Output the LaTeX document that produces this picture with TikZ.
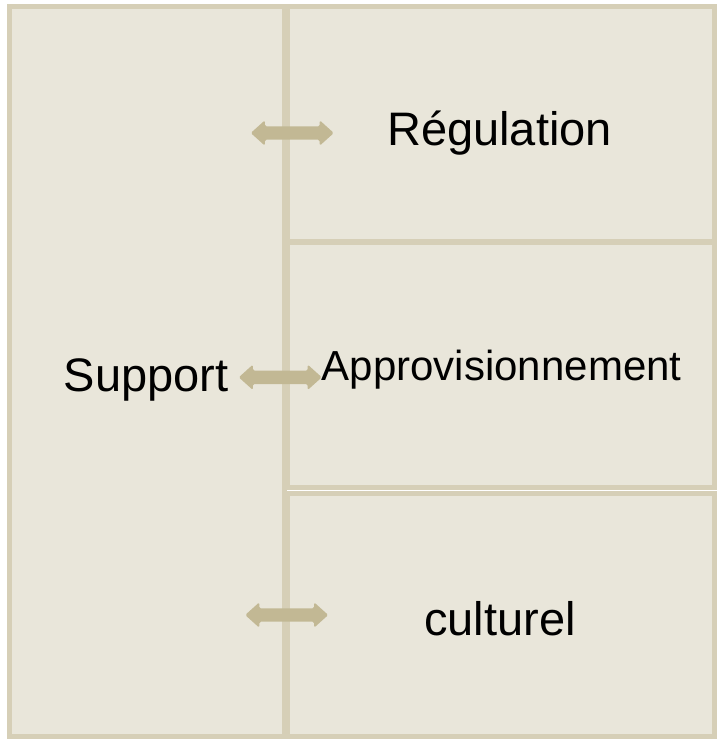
\documentclass[tikz,border=0pt]{standalone}
\usepackage{fontspec}
\setmainfont{Liberation Sans}
\usetikzlibrary{shapes.arrows}
\definecolor{boxfill}{HTML}{E9E6DA}
\definecolor{boxline}{HTML}{D6CFB7}
\definecolor{arrowcol}{HTML}{C2B894}
\tikzset{
  panel/.style={draw=boxline, fill=boxfill, line width=5pt},
  dblarrow/.style={double arrow, fill=arrowcol, draw=none,
    inner xsep=0pt, inner ysep=6.5pt, text height=0pt, text depth=0pt,
    minimum width=25pt, double arrow head extend=6pt,
    double arrow tip angle=84, rounded corners=1.5pt},
  bigtext/.style={anchor=base, inner sep=0pt, font=\fontsize{47}{50}\selectfont},
  midtext/.style={anchor=base, inner sep=0pt, font=\fontsize{42}{46}\selectfont}
}
\begin{document}
\begin{tikzpicture}[x=1pt,y=-1pt]
\useasboundingbox[fill=white] (0,0) rectangle (717,739);
% panels
\draw[panel] (9.5,6.5) rectangle (284.5,736.5);
\draw[panel] (287.5,6.5) rectangle (714.5,241.5);
\draw[panel] (287.5,242.5) rectangle (714.5,487.5);
\draw[panel] (287.5,493.5) rectangle (714.5,736.5);
% arrows
\node[dblarrow, minimum height=83pt] (a1) at (292.3,133) {};
\node[dblarrow, minimum height=83pt] (a2) at (280.3,377.3) {};
\node[dblarrow, minimum height=83pt] (a3) at (286.7,615) {};
% texts
\node[bigtext] (reg) at (499.5,145) {Régulation};
\node[bigtext] (sup) at (146,391.7) {Support};
\node[midtext] (app) at (501.7,380.7) {Approvisionnement};
\node[bigtext] (cul) at (500,635) {culturel};
\end{tikzpicture}
\end{document}
